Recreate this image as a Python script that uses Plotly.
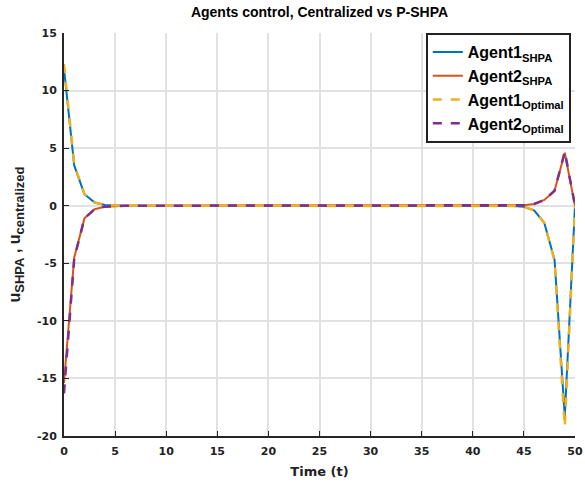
import plotly.graph_objects as go

# time samples (integer steps 0..50)
t = list(range(51))

agent1_shpa = [11.9, 3.5, 1.0, 0.28, 0.07, 0.02, 0.005, 0, 0, 0,
               0, 0, 0, 0, 0, 0, 0, 0, 0, 0,
               0, 0, 0, 0, 0, 0, 0, 0, 0, 0,
               0, 0, 0, 0, 0, 0, 0, 0, 0, 0,
               0, 0, 0, -0.01, -0.03, -0.1, -0.4, -1.5, -4.7, -18.3, 0]
agent2_shpa = [-15.4, -4.5, -1.1, -0.3, -0.08, -0.02, -0.005, 0, 0, 0,
               0, 0, 0, 0, 0, 0, 0, 0, 0, 0,
               0, 0, 0, 0, 0, 0, 0, 0, 0, 0,
               0, 0, 0, 0, 0, 0, 0, 0, 0, 0,
               0, 0, 0, 0.003, 0.01, 0.04, 0.15, 0.5, 1.3, 4.6, 0]
agent1_opt = [12.3, 3.6, 1.0, 0.28, 0.07, 0.02, 0.005, 0, 0, 0,
              0, 0, 0, 0, 0, 0, 0, 0, 0, 0,
              0, 0, 0, 0, 0, 0, 0, 0, 0, 0,
              0, 0, 0, 0, 0, 0, 0, 0, 0, 0,
              0, 0, 0, -0.01, -0.03, -0.1, -0.4, -1.5, -4.8, -19.2, 0]
agent2_opt = [-16.3, -4.6, -1.1, -0.3, -0.08, -0.02, -0.005, 0, 0, 0,
              0, 0, 0, 0, 0, 0, 0, 0, 0, 0,
              0, 0, 0, 0, 0, 0, 0, 0, 0, 0,
              0, 0, 0, 0, 0, 0, 0, 0, 0, 0,
              0, 0, 0, 0.003, 0.01, 0.04, 0.15, 0.5, 1.3, 4.7, 0]

x_ticks = [0, 5, 10, 15, 20, 25, 30, 35, 40, 45, 50]
y_ticks = [-20, -15, -10, -5, 0, 5, 10, 15]

series = [
    ("Agent1<sub>SHPA</sub>", agent1_shpa, "#0072BD", "solid", 2),
    ("Agent2<sub>SHPA</sub>", agent2_shpa, "#D95319", "solid", 2),
    ("Agent1<sub>Optimal</sub>", agent1_opt, "#EDB120", "dash", 2.5),
    ("Agent2<sub>Optimal</sub>", agent2_opt, "#7E2F8E", "dash", 2.5),
]

fig = go.Figure()
for name, y, color, dash, w in series:
    fig.add_trace(go.Scatter(x=t, y=y, mode="lines", name=name,
                             line=dict(color=color, dash=dash, width=w)))

axis_font = dict(family="DejaVu Sans", size=11, color="#222", weight="bold")
common = dict(showgrid=True, gridcolor="#e1e1e1", gridwidth=1.5,
              showline=True, linecolor="#262626", linewidth=2, ticks="inside", ticklen=5,
              tickcolor="#262626", tickfont=axis_font, zeroline=False, automargin=False)

ylabel = ("u<sub><span style='font-size:13px'>SHPA</span></sub> , "
          "u<sub><span style='font-size:13px'>centralized</span></sub>")

fig.update_layout(
    width=585, height=488,
    margin=dict(l=64, r=10, t=33, b=52),
    paper_bgcolor="white", plot_bgcolor="white",
    title=dict(text="Agents control, Centralized vs P-SHPA",
               x=(64 + 575) / 2 / 585, xanchor="center", y=0.975, yanchor="middle",
               font=dict(family="Liberation Sans", size=14, color="black", weight="bold")),
    xaxis=dict(range=[0, 50], tickvals=x_ticks, ticktext=[str(v) for v in x_ticks],
               ticklabelstandoff=4,
               title=dict(text="Time (t)", standoff=10,
                          font=dict(family="DejaVu Sans", size=13, color="#222", weight="bold")),
               **common),
    yaxis=dict(range=[-20, 15], tickvals=y_ticks, ticktext=[str(v) for v in y_ticks],
               ticklabelstandoff=3,
               title=dict(text=ylabel, standoff=12,
                          font=dict(family="Liberation Sans", size=16, color="#222", weight="bold")),
               **common),
    legend=dict(x=0.708, y=1.0, xanchor="left", yanchor="top",
                bordercolor="#222", borderwidth=2, bgcolor="white",
                font=dict(family="Liberation Sans", size=16, color="black", weight="bold"),
                tracegroupgap=2, itemwidth=30),
    showlegend=True,
)

fig.write_html("out.html")
